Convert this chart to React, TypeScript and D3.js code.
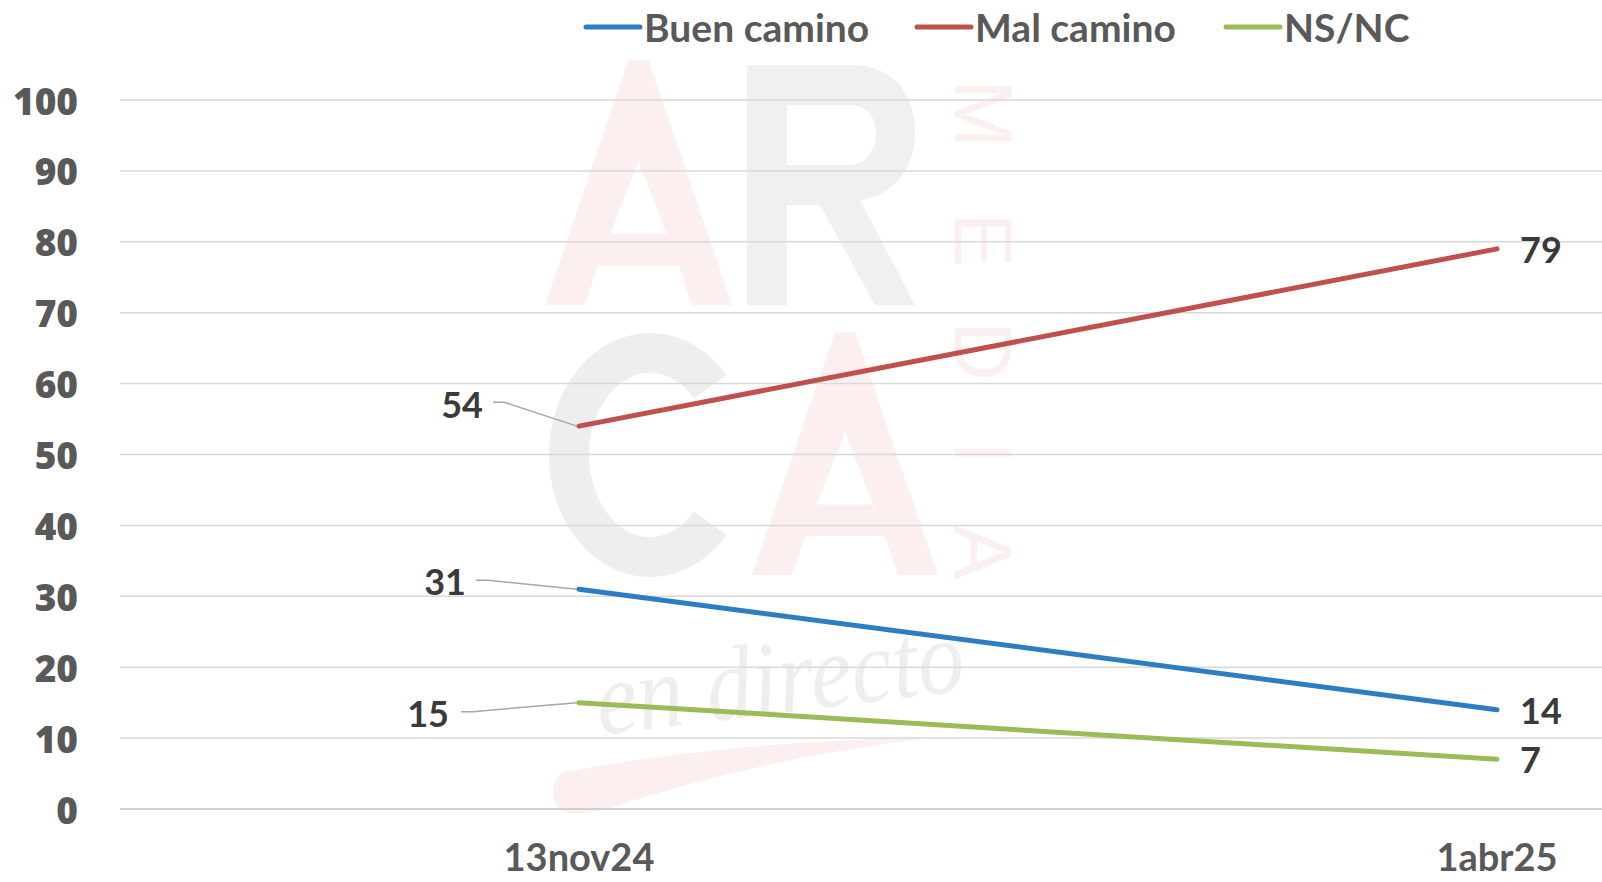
import React from "react";
import * as d3 from "d3";

const categories = ["13nov24", "1abr25"];
const seriesNames = ["Buen camino", "Mal camino", "NS/NC"];
const buenCamino = [31, 14];
const malCamino = [54, 79];
const nsnc = [15, 7];
const yTickValues = [0, 10, 20, 30, 40, 50, 60, 70, 80, 90, 100];

const W = 1602;
const H = 882;
const colors = ["#2E7DC2", "#C0504D", "#9BBB59"];
// manual label offsets for first point (label end x, centre y relative to point)
const firstLabelOffsets = [
  { dx: -113, dy: -8.5, lead: [[-103, -9], [-91, -9]] },
  { dx: -96, dy: -22, lead: [[-86, -24], [-75, -24]] },
  { dx: -130, dy: 10, lead: [[-118, 9], [-106, 9]] },
];
const legendX = [586, 917, 1226];

function aPath(x0: number, yT: number, w: number, h: number) {
  const xc = x0 + w / 2;
  const yB = yT + h;
  const outer = `M${x0},${yB} L${xc - 10},${yT} L${xc + 10},${yT} L${x0 + w},${yB} L${x0 + w - 40},${yB} L${x0 + w - 53},${yT + 0.84 * h} L${x0 + 53},${yT + 0.84 * h} L${x0 + 40},${yB} Z`;
  const counter = `M${xc},${yT + 0.41 * h} L${xc + 28},${yT + 0.71 * h} L${xc - 28},${yT + 0.71 * h} Z`;
  return outer + " " + counter;
}

export default function App() {
  const x = d3.scalePoint<string>().domain(categories).range([120, 1956]).padding(0.5);
  const y = d3.scaleLinear().domain([0, 100]).range([809, 100]);
  const series = [buenCamino, malCamino, nsnc];
  const line = d3
    .line<number>()
    .x((_, i) => x(categories[i]) as number)
    .y((d) => y(d));

  const pink = "#FBEFEF";
  const gray = "#F0F0F0";
  const cx = 650, cy = 455, rx = 81, ry = 102;
  const a0 = (-42 * Math.PI) / 180, a1 = (42 * Math.PI) / 180;
  const cPath = `M${cx + rx * Math.cos(a0)},${cy + ry * Math.sin(a0)} A${rx},${ry} 0 1 0 ${cx + rx * Math.cos(a1)},${cy + ry * Math.sin(a1)}`;
  const mediaLetters = [
    { l: "M", y: 114 },
    { l: "E", y: 240 },
    { l: "D", y: 351 },
    { l: "I", y: 453 },
    { l: "A", y: 552 },
  ];

  return (
    <svg
      width={W}
      height={H}
      style={{ position: "absolute", left: 0, top: 0, background: "#fff" }}
    >
      <rect x={0} y={0} width={W} height={H} fill="#fff" />
      {/* watermark */}
      <g>
        <path d={aPath(545, 60, 187, 245)} fill={pink} fillRule="evenodd" />
        <path
          d="M747,65 H850 C895,65 915,95 915,133 C915,170 893,195 860,200 L915,305 H875 L820,205 H787 V305 H747 Z M787,105 H848 C868,105 876,118 876,133 C876,150 866,165 848,165 H787 Z"
          fill={gray}
          fillRule="evenodd"
        />
        <path d={cPath} fill="none" stroke="#EEEEEE" strokeWidth={40} />
        <path d={aPath(752, 332, 186, 243)} fill={pink} fillRule="evenodd" />
        {mediaLetters.map((m) => (
          <text
            key={m.l + m.y}
            transform={`translate(983,${m.y}) rotate(90)`}
            textAnchor="middle"
            dominantBaseline="central"
            fontFamily="Liberation Sans"
            fontSize={82}
            fill={pink}
          >
            {m.l}
          </text>
        ))}
        <path
          d="M565,772 Q720,742 935,737 Q760,758 610,808 Q553,824 553,792 Q553,776 565,772 Z"
          fill={pink}
        />
        <text
          transform="translate(600,735) rotate(-7)"
          fontFamily="Liberation Serif"
          fontStyle="italic"
          fontSize={105}
          fill="#EEEEEE"
          textLength={370}
          lengthAdjust="spacingAndGlyphs"
        >
          en directo
        </text>
      </g>

      {/* gridlines */}
      {yTickValues.map((t) => (
        <line
          key={t}
          x1={120}
          x2={W}
          y1={y(t)}
          y2={y(t)}
          stroke={t === 0 ? "#D0D0D0" : "#D9D9D9"}
          strokeWidth={t === 0 ? 2 : 1.5}
        />
      ))}
      {/* y tick labels */}
      {yTickValues.map((t) => (
        <text
          key={"l" + t}
          x={78}
          y={y(t)}
          textAnchor="end"
          dominantBaseline="central"
          fontFamily="Open Sans"
          fontWeight={800}
          fontSize={37}
          fill="#595959"
        >
          {t}
        </text>
      ))}
      {/* x labels */}
      {categories.map((c) => (
        <text
          key={c}
          x={x(c) as number}
          y={871}
          textAnchor="middle"
          fontFamily="Lato"
          fontWeight={700}
          fontSize={38}
          fill="#595959"
        >
          {c}
        </text>
      ))}

      {/* leader lines */}
      {series.map((s, si) => {
        const px = x(categories[0]) as number;
        const py = y(s[0]);
        const o = firstLabelOffsets[si];
        const pts = [[px + o.lead[0][0], py + o.lead[0][1]], [px + o.lead[1][0], py + o.lead[1][1]], [px - 2, py]];
        return (
          <path
            key={"lead" + si}
            d={d3.line()(pts as [number, number][]) as string}
            fill="none"
            stroke="#A6A6A6"
            strokeWidth={1.5}
          />
        );
      })}

      {/* lines */}
      {series.map((s, si) => (
        <path
          key={"s" + si}
          d={line(s) as string}
          fill="none"
          stroke={colors[si]}
          strokeWidth={5}
          strokeLinecap="round"
        />
      ))}

      {/* data labels */}
      {series.map((s, si) => {
        const px0 = x(categories[0]) as number;
        const o = firstLabelOffsets[si];
        const px1 = x(categories[1]) as number;
        return (
          <g key={"dl" + si} fontFamily="Lato" fontWeight={700} fontSize={36} fill="#3A3A3A">
            <text x={px0 + o.dx} y={y(s[0]) + o.dy} textAnchor="end" dominantBaseline="central">
              {s[0]}
            </text>
            <text x={px1 + 23} y={y(s[1])} textAnchor="start" dominantBaseline="central">
              {s[1]}
            </text>
          </g>
        );
      })}

      {/* legend */}
      {seriesNames.map((n, i) => (
        <g key={n}>
          <line
            x1={legendX[i]}
            x2={legendX[i] + 54}
            y1={27}
            y2={27}
            stroke={colors[i]}
            strokeWidth={5}
            strokeLinecap="round"
          />
          <text
            x={legendX[i] + 58}
            y={27}
            dominantBaseline="central"
            fontFamily="Lato"
            fontWeight={700}
            fontSize={39}
            fill="#595959"
          >
            {n}
          </text>
        </g>
      ))}
    </svg>
  );
}
